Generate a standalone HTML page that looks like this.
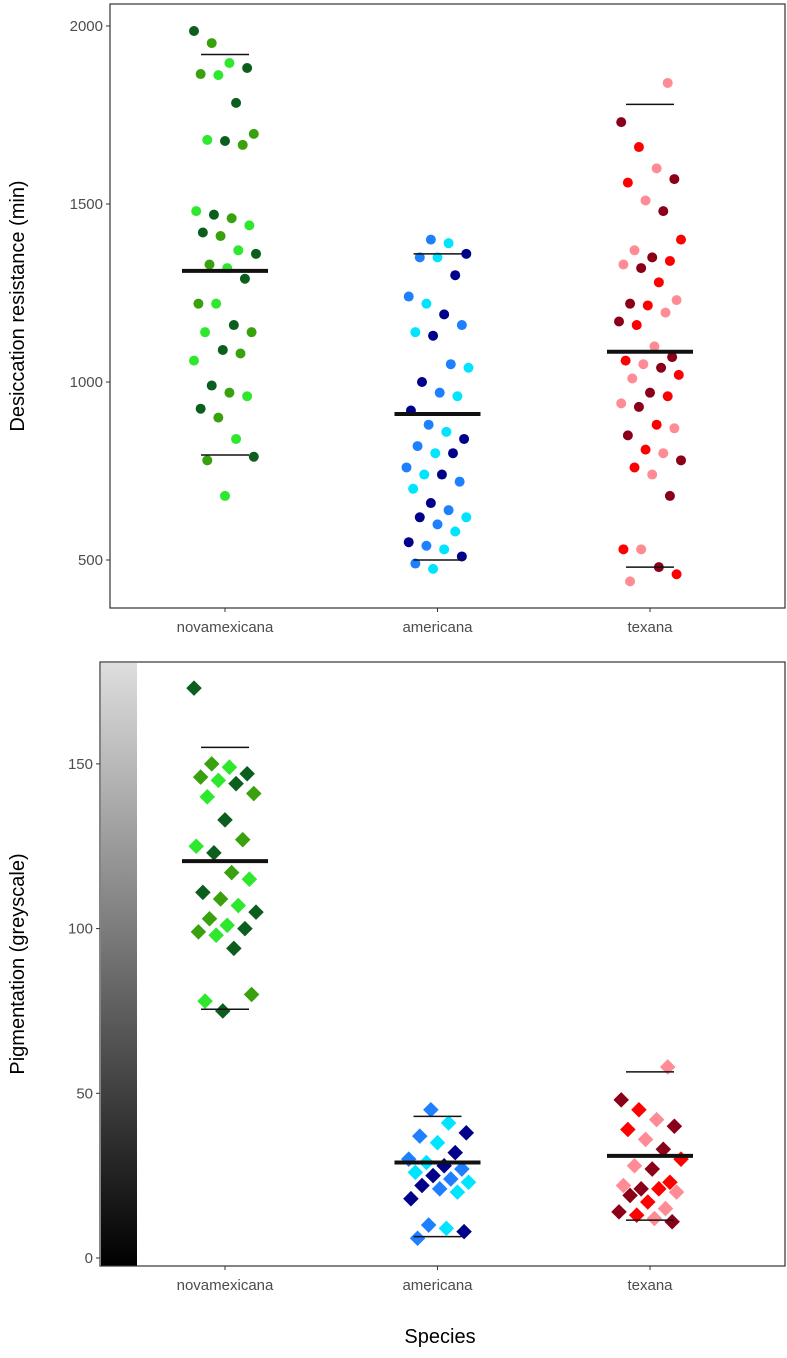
<!DOCTYPE html>
<html><head><meta charset="utf-8"><style>
body{margin:0;background:#fff;font-family:"Liberation Sans",sans-serif}
</style></head><body>
<svg id="c" width="787" height="1353" xmlns="http://www.w3.org/2000/svg" font-family="Liberation Sans, sans-serif">
<defs><linearGradient id="gr" x1="0" y1="1" x2="0" y2="0"><stop offset="0" stop-color="#000"/><stop offset="1" stop-color="#dedede"/></linearGradient></defs>
</svg>
<script>
const species=["novamexicana","americana","texana"];
const topTicks=[500,1000,1500,2000];
const botTicks=[0,50,100,150];
const desNova=[1986,1952,1896,1882,1865,1862,1784,1697,1680,1677,1666,1480,1470,1460,1440,1420,1410,1370,1360,1330,1320,1290,1220,1220,1160,1140,1140,1090,1080,1060,990,970,960,925,900,840,790,780,680];
const desAmer=[1400,1390,1360,1350,1350,1300,1240,1220,1190,1160,1140,1130,1050,1040,1000,970,960,920,880,860,840,820,800,800,760,740,740,720,700,660,640,620,620,600,580,550,540,530,510,490,475];
const desTex=[1840,1730,1660,1600,1570,1560,1510,1480,1400,1370,1350,1340,1330,1320,1280,1230,1220,1215,1195,1170,1160,1100,1070,1060,1050,1040,1020,1010,970,960,940,930,880,870,850,810,800,780,760,740,680,530,530,480,460,440];
const desStats=[[1312,1920,795],[910,1360,500],[1085,1780,480]];
const pigNova=[173,150,149,147,146,145,144,141,140,133,127,125,123,117,115,111,109,107,105,103,101,100,99,98,94,80,78,75];
const pigAmer=[45,41,38,37,35,32,30,29,28,27,26,25,24,23,22,21,20,18,10,9,8,6];
const pigTex=[58,48,45,42,40,39,36,33,30,28,27,23,22,21,21,20,19,17,15,14,13,12,11];
const pigStats=[[120.5,155,75.5],[29,43,6.5],[31,56.5,11.5]];
const palettes=[["#0b5e1e","#3aa10e","#2ee82e"],["#00008b","#1e7fff","#00e5ff"],["#8b0018","#ff0000","#ff8c94"]];
const svg=document.getElementById('c');const NS="http://www.w3.org/2000/svg";
function mk(t,a,p){const e=document.createElementNS(NS,t);for(const k in a)e.setAttribute(k,a[k]);(p||svg).appendChild(e);return e;}
const xc=i=>225+i*212.5;
function panel(name,x0,y0,x1,y1,ymap,ticks,data,stats,shape,title,tx){
 const g=mk('g',{});
 
 
 mk('rect',{x:x0,y:y0,width:x1-x0,height:y1-y0,fill:'none',stroke:'#333','stroke-width':1.2},g);
 ticks.forEach(t=>{const y=ymap(t);
  mk('line',{x1:x0-4,x2:x0,y1:y,y2:y,stroke:'#333'},g);
  const tl=mk('text',{x:x0-7,y:y+5,'text-anchor':'end','font-size':15,fill:'#4d4d4d'},g);tl.textContent=t;
  
  });
 species.forEach((s,i)=>{
  mk('line',{x1:xc(i),x2:xc(i),y1:y1,y2:y1+4,stroke:'#333'},g);
  const l=mk('text',{x:xc(i),y:y1+24,'text-anchor':'middle','font-size':15,fill:'#4d4d4d'},g);l.textContent=s;
  
  
  data[i].forEach((v,j)=>{const jt=(((j*37+i*11)%29)/28-0.5)*62;const x=xc(i)+jt,y=ymap(v);const col=palettes[i][(j*7+i)%3];
   let m;if(shape==='c')m=mk('circle',{cx:x,cy:y,r:5,fill:col},g);
   else m=mk('rect',{x:x-5.5,y:y-5.5,width:11,height:11,fill:col,transform:`rotate(45 ${x} ${y})`},g);
   
   });
  const st=stats[i];
  const ml=mk('line',{x1:xc(i)-43,x2:xc(i)+43,y1:ymap(st[0]),y2:ymap(st[0]),stroke:'#111','stroke-width':4},g);
  
  
  [st[1],st[2]].forEach(v=>{const q=mk('line',{x1:xc(i)-24,x2:xc(i)+24,y1:ymap(v),y2:ymap(v),stroke:'#111','stroke-width':1.5},g);
   
   });
 });
 const yt=mk('text',{x:0,y:0,'font-size':20,'text-anchor':'middle',fill:'#000',transform:`translate(${tx} ${(y0+y1)/2}) rotate(-90)`},g);yt.textContent=title;
 
 
 return g;
}
const gb=mk('rect',{x:101,y:663,width:36,height:603,fill:'url(#gr)'});


panel('desiccation-panel',110,4,785,608,v=>382-(v-1000)*178/500,topTicks,[desNova,desAmer,desTex],desStats,'c','Desiccation resistance (min)',24);
panel('pigmentation-panel',100,662,785,1266,v=>1258-v*3.294,botTicks,[pigNova,pigAmer,pigTex],pigStats,'d','Pigmentation (greyscale)',24);
const xt=mk('text',{x:440,y:1343,'text-anchor':'middle','font-size':20,fill:'#000'});xt.textContent='Species';


</script>
</body></html>
